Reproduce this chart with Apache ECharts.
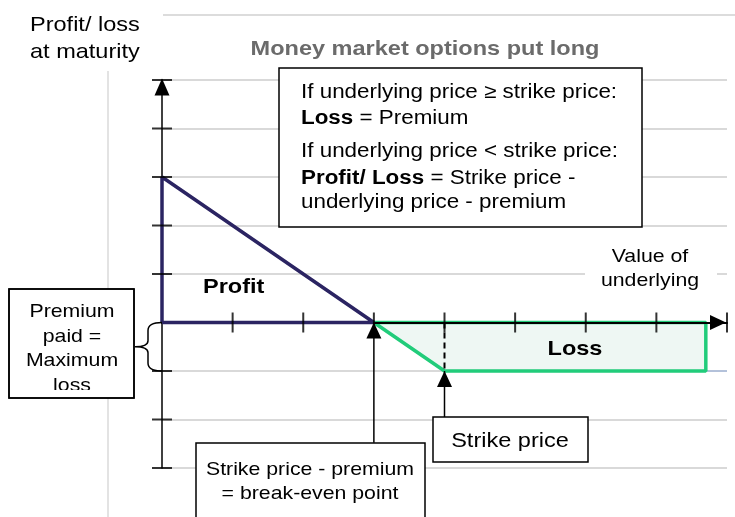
<!DOCTYPE html>
<html>
<head>
<meta charset="utf-8">
<script src="https://cdn.jsdelivr.net/npm/echarts@6/dist/echarts.min.js"></script>
<style>
html, body { margin: 0; padding: 0; background: #fff; }
#chart { width: 735px; height: 517px; }
</style>
</head>
<body>
<div id="chart"></div>
<script>
// long put on a money market option: x = value of underlying, y = profit / loss
var xTicks = [1, 2, 3, 4, 5, 6, 7, 8];
var yTicks = [-3, -2, -1, 1, 2, 3, 4, 5];

// profit triangle (navy)
var profitX = [0, 0, 3, 0];
var profitY = [0, 3, 0, 0];

// loss area (green)
var lossX = [3, 4, 7.7, 7.7, 3];
var lossY = [0, -1, -1, 0, 0];

var premiumLevel = [[4, -1], [8, -1]];
var strikeDash = [[4, 0], [4, -1]];
var strikeArrow = [[4, -1.95], [4, -1]];
var breakEvenArrow = [[3, -2.48], [3, 0]];
var braceSpan = [0, 0, -1];   // x, top, bottom

var FONT = 'Liberation Sans, Arial, sans-serif';
var SX = 1.12;   // text in the picture is a bit wider than plain Arial

// text placed by its baseline
function label(x, base, text, size, opt) {
	opt = opt || {};
	return {
		type: 'text', x: x, y: base - size * 0.35, scaleX: SX, z: opt.z || 11,
		style: {
			text: text, fill: opt.color || '#000',
			fontFamily: FONT, fontSize: size, fontWeight: opt.bold ? 'bold' : 'normal',
			textAlign: opt.align || 'left', textVerticalAlign: 'middle', verticalAlign: 'middle',
			rich: { b: { fontFamily: FONT, fontSize: size, fontWeight: 'bold', fill: '#000' } }
		}
	};
}

function box(x, y, w, h, opt) {
	opt = opt || {};
	return {
		type: 'rect', z: opt.z || 10,
		shape: { x: x, y: y, width: w, height: h },
		style: { fill: opt.fill === undefined ? '#fff' : opt.fill, stroke: opt.stroke === undefined ? '#000' : opt.stroke, lineWidth: 1.5 }
	};
}

function zip(xs, ys) {
	return xs.map(function (v, i) { return [v, ys[i]]; });
}

function arrowData(pts) {
	return [
		{ value: pts[0], symbol: 'none' },
		{ value: pts[1], symbol: 'triangle', symbolSize: [15, 16], symbolOffset: [0, '50%'] }
	];
}

var myChart = echarts.init(document.getElementById('chart'));

var option = {
	animation: false,
	grid: { left: 162, right: 8, top: 80, bottom: 49, containLabel: false, outerBoundsMode: 'none' },
	xAxis: {
		type: 'value', min: 0, max: 8, interval: 1, z: 2,
		axisLine: {
			onZero: true, symbol: ['none', 'triangle'], symbolSize: [15, 16], symbolOffset: [0, -9],
			lineStyle: { color: '#000', width: 2 }
		},
		axisTick: { show: false },
		axisLabel: { show: false },
		splitLine: { show: false }
	},
	yAxis: {
		type: 'value', min: -3, max: 5, interval: 1, z: 0,
		axisLine: {
			onZero: true, symbol: ['none', 'triangle'], symbolSize: [15, 17], symbolOffset: [0, -7],
			lineStyle: { color: '#000', width: 1.5 }
		},
		axisTick: { show: false },
		axisLabel: { show: false },
		splitLine: { show: true, lineStyle: { color: '#d9d9d9', width: 2 } }
	},
	series: [
		{
			type: 'line', z: 1, symbol: 'none', silent: true,
			data: premiumLevel,
			lineStyle: { color: '#8eaadb', width: 1 }
		},
		{
			type: 'line', z: 1, symbol: 'none', silent: true,
			data: zip(lossX, lossY),
			lineStyle: { color: '#21cc7a', width: 3.5 },
			areaStyle: { color: '#eef7f3', opacity: 1 }
		},
		{
			type: 'line', z: 3, symbol: 'none', silent: true,
			data: zip(profitX, profitY),
			lineStyle: { color: '#2b2462', width: 3.5 }
		},
		{
			type: 'line', z: 3, symbol: 'none', silent: true,
			data: strikeDash,
			lineStyle: { color: '#000', width: 2, type: [6, 4] }
		},
		{
			type: 'line', z: 4, symbol: 'none', silent: true,
			data: arrowData(strikeArrow),
			itemStyle: { color: '#000' },
			lineStyle: { color: '#000', width: 1.5 }
		},
		{
			type: 'line', z: 4, symbol: 'none', silent: true,
			data: arrowData(breakEvenArrow),
			itemStyle: { color: '#000' },
			lineStyle: { color: '#000', width: 1.5 }
		},
		{
			// axis ticks that cross the axis line
			type: 'scatter', z: 5, silent: true,
			symbol: 'rect', symbolSize: [2, 20],
			itemStyle: { color: '#000' },
			data: xTicks.map(function (v) { return [v, 0]; })
		},
		{
			type: 'scatter', z: 5, silent: true,
			symbol: 'rect', symbolSize: [20, 2],
			itemStyle: { color: '#000' },
			data: yTicks.map(function (v) { return [0, v]; })
		},
		{
			// curly brace marking the premium
			type: 'custom', z: 5, silent: true,
			data: [braceSpan],
			renderItem: function (params, api) {
				var top = api.coord([api.value(0), api.value(1)]);
				var bot = api.coord([api.value(0), api.value(2)]);
				var x0 = top[0], y0 = top[1], y1 = bot[1], ym = (y0 + y1) / 2;
				var xl = x0 - 14, xt = x0 - 27;
				var d = 'M' + x0 + ',' + y0 +
					' Q' + xl + ',' + y0 + ' ' + xl + ',' + (y0 + 8) +
					' L' + xl + ',' + (ym - 6) +
					' Q' + xl + ',' + ym + ' ' + xt + ',' + ym +
					' Q' + xl + ',' + ym + ' ' + xl + ',' + (ym + 6) +
					' L' + xl + ',' + (y1 - 8) +
					' Q' + xl + ',' + y1 + ' ' + x0 + ',' + y1;
				return {
					type: 'path',
					shape: { pathData: d, x: xt, y: y0, width: x0 - xt, height: y1 - y0, layout: 'cover' },
					style: { stroke: '#000', fill: 'none', lineWidth: 1.5 }
				};
			}
		}
	],
	graphic: [
		{ type: 'line', z: 1, shape: { x1: 163, y1: 15, x2: 735, y2: 15 }, style: { stroke: '#dcdcdc', lineWidth: 2 } },
		{ type: 'line', z: 1, shape: { x1: 108, y1: 71, x2: 108, y2: 517 }, style: { stroke: '#e3e3e3', lineWidth: 2 } },

		label(30, 33, 'Profit/ loss', 21),
		label(30, 60, 'at maturity', 21),
		label(425, 57, 'Money market options put long', 21, { bold: true, align: 'center', color: '#6b6b6b' }),

		box(279, 68, 363, 159),
		label(301, 99, 'If underlying price \u2265 strike price:', 20),
		label(301, 125, '{b|Loss} = Premium', 20),
		label(301, 158, 'If underlying price < strike price:', 20),
		label(301, 185, '{b|Profit/ Loss} = Strike price -', 20),
		label(301, 209, 'underlying price - premium', 20),

		box(585, 245, 132, 48, { stroke: null }),
		label(650, 263, 'Value of', 19, { align: 'center' }),
		label(650, 287, 'underlying', 19, { align: 'center' }),

		label(203, 295, 'Profit', 21, { bold: true }),
		label(575, 357, 'Loss', 21, { bold: true, align: 'center' }),

		box(9, 289, 125, 109),
		label(72, 318, 'Premium', 19, { align: 'center' }),
		label(72, 343, 'paid =', 19, { align: 'center' }),
		label(72, 367, 'Maximum', 19, { align: 'center' }),
		label(72, 392, 'loss', 19, { align: 'center' }),
		box(11, 390, 121, 7, { stroke: null, z: 12 }),
		box(9, 289, 125, 109, { fill: null, z: 13 }),

		box(433, 417, 155, 45),
		label(510, 449, 'Strike price', 21, { align: 'center' }),

		box(196, 443, 229, 90),
		label(310, 476, 'Strike price - premium', 19, { align: 'center' }),
		label(310, 500, '= break-even point', 19, { align: 'center' })
	]
};

myChart.setOption(option);
</script>
</body>
</html>
